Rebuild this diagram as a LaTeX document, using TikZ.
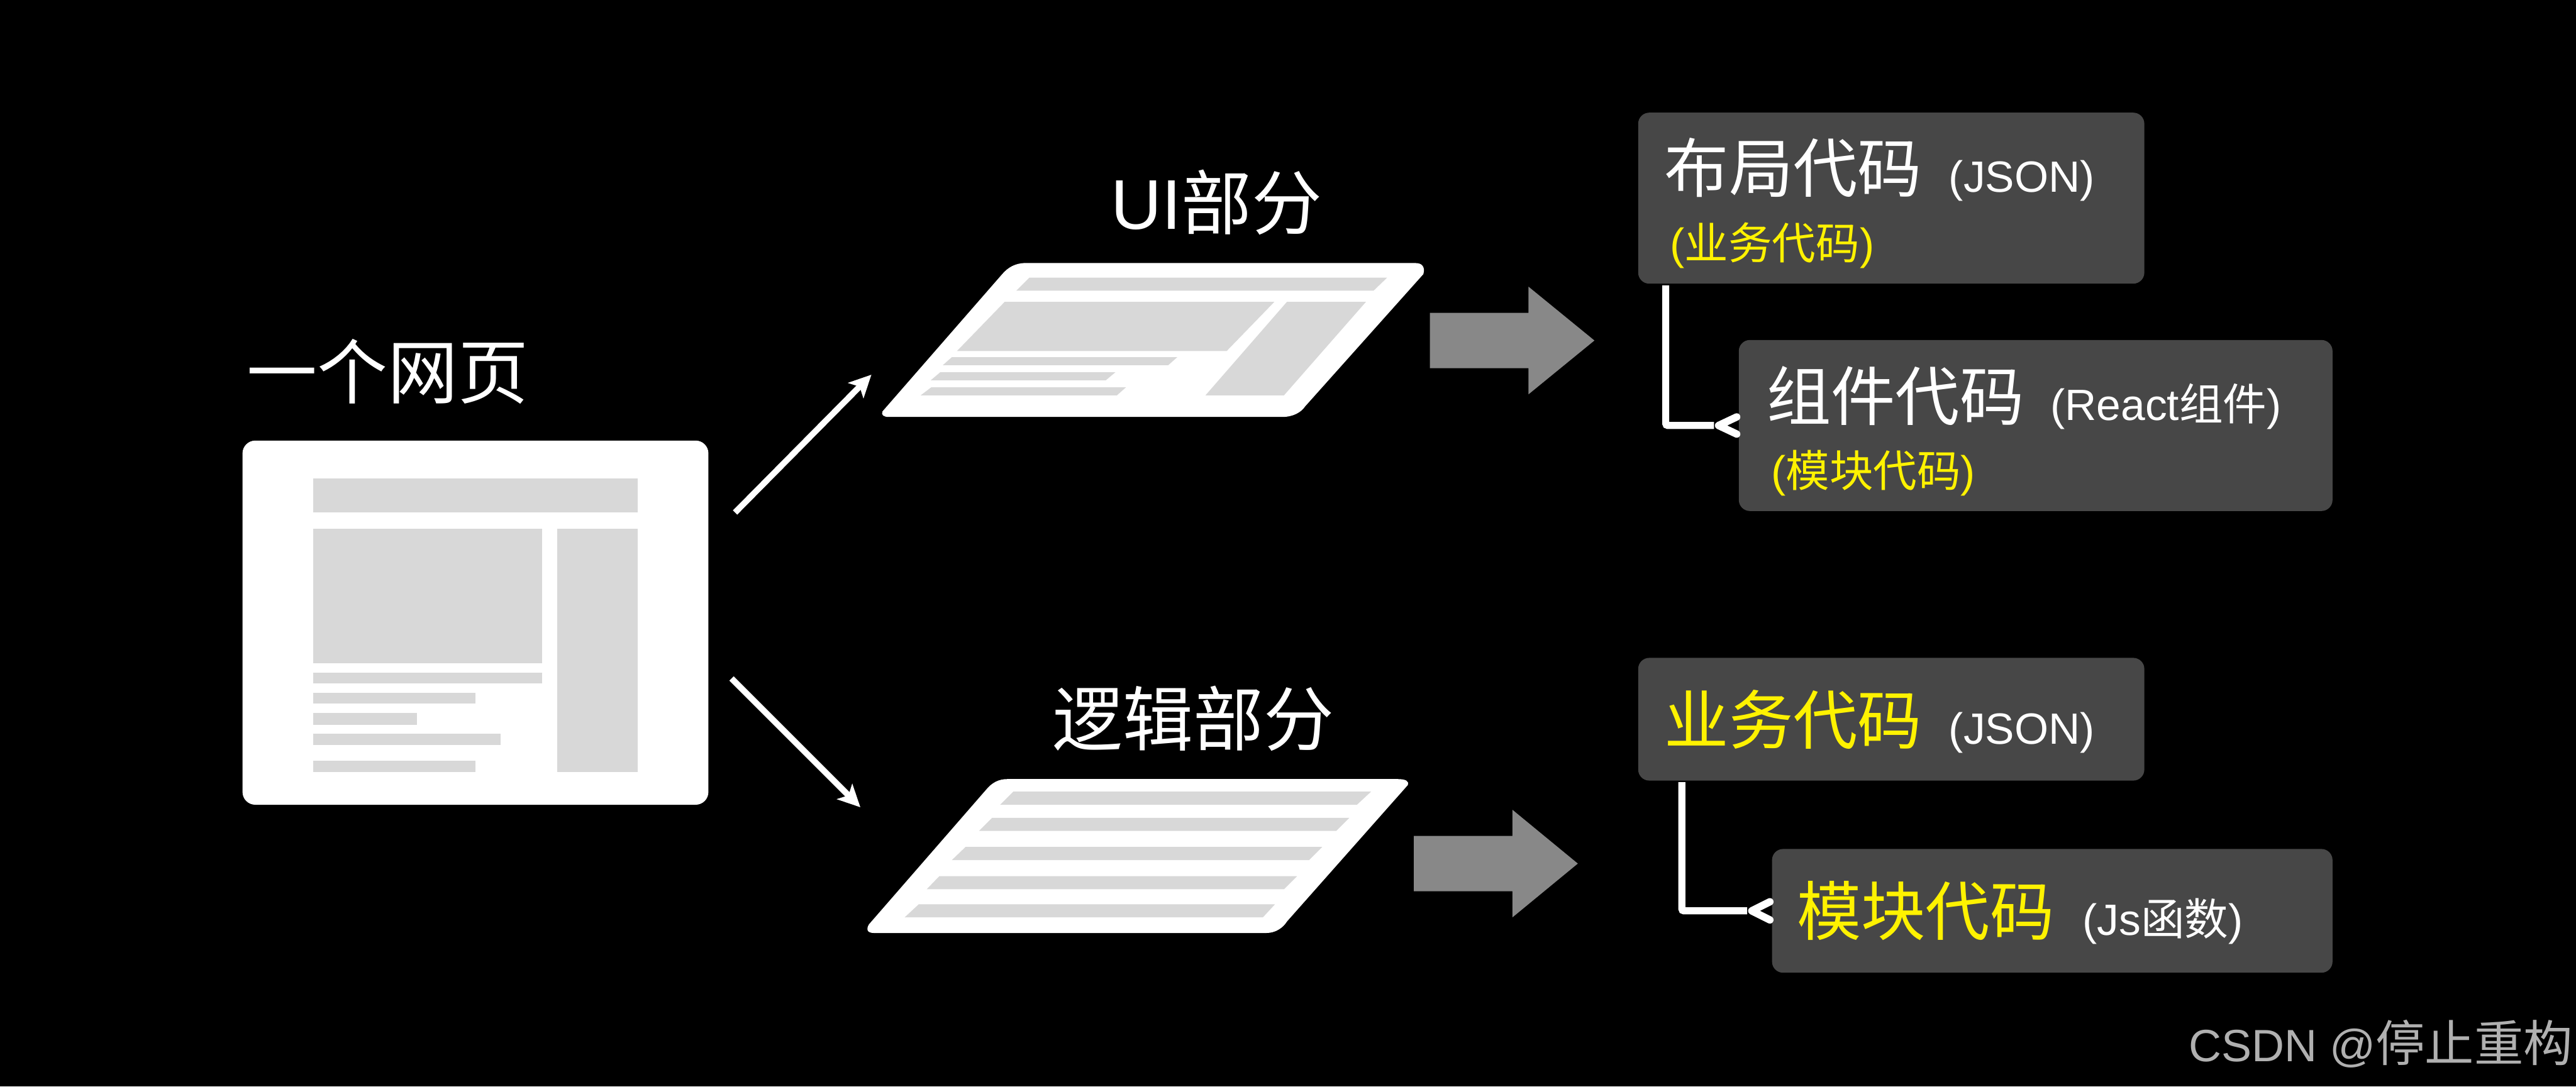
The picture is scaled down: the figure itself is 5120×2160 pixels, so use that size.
\documentclass[tikz,border=0pt]{standalone}
\usepackage{fontspec}
\setmainfont{Noto Sans CJK SC}
\newfontfamily\latinfont{Liberation Sans}
\newcommand{\notesize}{\fontsize{65.25}{78}\selectfont}
\usetikzlibrary{arrows.meta}
\tikzset{
  bigtext/.style={anchor=base west,inner sep=0pt,text=white,font=\fontsize{105}{120}\selectfont},
  headtext/.style={anchor=base west,inner sep=0pt,text=white,font=\fontsize{96}{110}\selectfont},
  hinttext/.style={anchor=base west,inner sep=0pt,text=yellow,font=\notesize},
  marktext/.style={anchor=base west,inner sep=0pt,text={rgb, 255:red, 176; green, 176; blue, 176},font=\fontsize{73.5}{88}\selectfont},
  codebox/.style={fill={rgb, 255:red, 71; green, 71; blue, 71},rounded corners=16.5pt,inner sep=0pt},
  cardbox/.style={fill=white,rounded corners=19pt,inner sep=0pt},
  sheet/.style={fill=white,draw=none},
  bar/.style={fill={rgb, 255:red, 216; green, 216; blue, 216},draw=none},
  bigarrow/.style={fill={rgb, 255:red, 136; green, 136; blue, 136},draw=none},
  thinarrow/.style={draw=white,line width=9pt,-{Stealth[length=33pt,width=32pt,inset=8pt]}},
  elbow/.style={draw=white,line width=10.5pt,rounded corners=3pt},
  chevron/.style={draw=white,line width=11pt,line cap=round,line join=round}
}
\begin{document}
\begin{tikzpicture}[x=0.75pt,y=0.75pt,yscale=-1,xscale=1]
    \useasboundingbox (0,0) rectangle (5120,2160);
    \path [fill=black] (0,0) rectangle (5120,2160);

    %Shape: Web page card
    \draw (945,1238) node (pagecard) [cardbox,minimum width=694.5pt,minimum height=543pt] {};
    \path [bar] (623,951) rectangle (1267,1019);
    \path [bar] (623,1051) rectangle (1077,1319);
    \path [bar] (1107,1051) rectangle (1267,1535);
    \path [bar] (623,1337) rectangle (1077,1359);
    \path [bar] (623,1377) rectangle (945,1399);
    \path [bar] (623,1417) rectangle (829,1441);
    \path [bar] (623,1459) rectangle (995,1481);
    \path [bar] (623,1513) rectangle (945,1535);

    %Straight Lines
    \coordinate (uptail) at (1461,1019);
    \coordinate (uphead) at (1732,745);
    \draw [thinarrow] (uptail) -- (uphead);
    %Straight Lines
    \coordinate (downtail) at (1454,1349);
    \coordinate (downhead) at (1710,1605);
    \draw [thinarrow] (downtail) -- (downhead);

    %Shape: UI sheet
    \path [sheet] (2038,523) -- (2813,523) .. controls (2826,523) and (2833,530) .. (2829,545) -- (2594,808) .. controls (2586,820) and (2570,829) .. (2548,829) -- (1767,829) .. controls (1756,829) and (1751,825) .. (1754,818) -- (1992,545) .. controls (2003,532) and (2018,523) .. (2038,523) -- cycle ;
    \path [bar] (2046,552) -- (2757,552) -- (2730,578) -- (2020,578) -- cycle ;
    \path [bar] (1997,600) -- (2533,600) -- (2438,698) -- (1902,698) -- cycle ;
    \path [bar] (2558,600) -- (2715,600) -- (2552,786) -- (2396,786) -- cycle ;
    \path [bar] (1892,710) -- (2340,710) -- (2322,726) -- (1874,726) -- cycle ;
    \path [bar] (1869,740) -- (2217,740) -- (2198,756) -- (1850,756) -- cycle ;
    \path [bar] (1851,770) -- (2238,770) -- (2220,786) -- (1830,786) -- cycle ;

    %Shape: Logic sheet
    \path [sheet] (2002,1549) -- (2778,1549) .. controls (2794,1549) and (2801,1553) .. (2798,1561) -- (2558,1832) .. controls (2550,1845) and (2535,1855) .. (2517,1855) -- (1737,1855) .. controls (1726,1855) and (1720,1850) .. (1727,1838) -- (1961,1569) .. controls (1972,1556) and (1985,1549) .. (2002,1549) -- cycle ;
    \path [bar] (2014,1574) -- (2725,1574) -- (2697,1600) -- (1988,1600) -- cycle ;
    \path [bar] (1972,1626) -- (2682,1626) -- (2656,1652) -- (1946,1652) -- cycle ;
    \path [bar] (1919,1684) -- (2628,1684) -- (2602,1710) -- (1892,1710) -- cycle ;
    \path [bar] (1867,1742) -- (2578,1742) -- (2552,1768) -- (1842,1768) -- cycle ;
    \path [bar] (1826,1798) -- (2534,1798) -- (2510,1824) -- (1798,1824) -- cycle ;

    %Shape: Right Arrow
    \path [bigarrow] (2842,622) -- (3038,622) -- (3038,570) -- (3169,677) -- (3038,784) -- (3038,732) -- (2842,732) -- cycle ;
    %Shape: Right Arrow
    \path [bigarrow] (2810,1662) -- (3006,1662) -- (3006,1610) -- (3136,1717) -- (3006,1824) -- (3006,1772) -- (2810,1772) -- cycle ;

    %Shape: Rounded boxes
    \draw (3759,394) node (layoutbox) [codebox,minimum width=754.5pt,minimum height=255pt] {};
    \draw (4046,846) node (widgetbox) [codebox,minimum width=885pt,minimum height=255pt] {};
    \draw (3759,1430) node (servicebox) [codebox,minimum width=754.5pt,minimum height=183pt] {};
    \draw (4079,1811) node (modulebox) [codebox,minimum width=835.5pt,minimum height=184.5pt] {};

    %Elbow connectors
    \draw [elbow] ([shift={(55,3)}]layoutbox.south west) |- ([shift={(-49,0)}]widgetbox.west);
    \draw [chevron] ([shift={(-4,-17)}]widgetbox.west) -- ([shift={(-40,0)}]widgetbox.west) -- ([shift={(-4,17)}]widgetbox.west);
    \draw [elbow] ([shift={(87,3)}]servicebox.south west) |- ([shift={(-49,0)}]modulebox.west);
    \draw [chevron] ([shift={(-4,-18)}]modulebox.west) -- ([shift={(-40,0)}]modulebox.west) -- ([shift={(-4,18)}]modulebox.west);

    % Text Node
    \draw (490,792) node (pagetitle) [bigtext] {一个网页};
    % Text Node
    \draw (2208,456) node (uititle) [bigtext] {{\latinfont UI}部分};
    % Text Node
    \draw (2091,1482) node (logictitle) [bigtext] {逻辑部分};
    % Text Node
    \draw (3308,382) node (layouttext) [headtext] {布局代码{\notesize\kern40pt{\latinfont (JSON)}}};
    % Text Node
    \draw (3319,515) node (layouthint) [hinttext] {{\latinfont (}业务代码{\latinfont )}};
    % Text Node
    \draw (3511,835) node (widgettext) [headtext] {组件代码{\notesize\kern39pt{\latinfont (React}组件{\latinfont )}}};
    % Text Node
    \draw (3520,968) node (widgethint) [hinttext] {{\latinfont (}模块代码{\latinfont )}};
    % Text Node
    \draw (3308,1479) node (servicetext) [headtext,text=yellow] {业务代码{\notesize\color{white}\kern40pt{\latinfont (JSON)}}};
    % Text Node
    \draw (3571,1859) node (moduletext) [headtext,text=yellow] {模块代码{\notesize\color{white}\kern42pt{\latinfont (Js}函数{\latinfont )}}};
    % Text Node
    \draw (4350,2111) node (watermark) [marktext] {{\latinfont\fontsize{67.5}{80}\selectfont CSDN @}停止重构};

\end{tikzpicture}
\end{document}
